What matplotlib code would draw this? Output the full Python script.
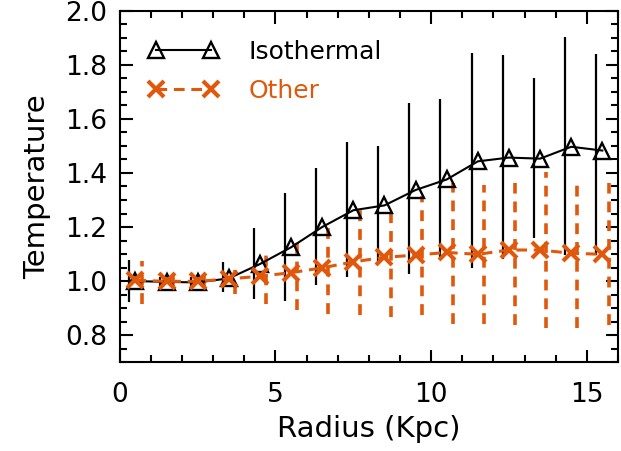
import numpy as np
import matplotlib.pyplot as plt

# radius bins (Kpc)
radius = np.arange(16) + 0.5

# Isothermal profile and its error range
iso_t = [1.0, 0.997, 0.995, 1.01, 1.063, 1.125, 1.20, 1.262,
         1.28, 1.337, 1.376, 1.443, 1.457, 1.453, 1.497, 1.483]
iso_hi = [1.078, 1.015, 1.015, 1.071, 1.195, 1.327, 1.417, 1.514,
          1.50, 1.658, 1.673, 1.843, 1.837, 1.751, 1.903, 1.84]
iso_lo = [0.923, 0.975, 0.975, 0.96, 0.933, 0.926, 0.985, 1.016,
          1.071, 1.025, 1.09, 1.047, 1.08, 1.158, 1.096, 1.096]

# Other profile and its error range
oth_t = [1.003, 0.999, 0.999, 1.008, 1.018, 1.031, 1.049, 1.071,
         1.088, 1.096, 1.106, 1.099, 1.115, 1.115, 1.103, 1.099]
oth_hi = [1.075, 1.02, 1.02, 1.04, 1.12, 1.164, 1.213, 1.269,
          1.265, 1.315, 1.362, 1.356, 1.362, 1.405, 1.38, 1.362]
oth_lo = [0.917, 0.98, 0.98, 0.954, 0.917, 0.893, 0.88, 0.874,
          0.868, 0.874, 0.843, 0.843, 0.837, 0.825, 0.825, 0.837]

orange = '#E0580C'
plt.rcParams['font.family'] = ['DejaVu Sans']

fig = plt.figure(figsize=(6.21, 4.51), dpi=100)
ax = fig.add_axes([0.193, 0.197, 0.802, 0.779])

ax.vlines(radius - 0.2, iso_lo, iso_hi, colors='k', lw=1.6, zorder=2)
ax.vlines(radius + 0.2, oth_lo, oth_hi, colors=orange, lw=2.6,
          linestyles=(0, (3, 2.2)), zorder=2)

ax.plot(radius, iso_t, color='k', lw=1.5, marker='^', ms=12, mfc='none',
        mec='k', mew=1.7, label='Isothermal', zorder=3)
ax.plot(radius, oth_t, color=orange, lw=2.2, ls=(0, (3.5, 2.2)), marker='x',
        ms=11, mew=3, label='Other', zorder=4)

ax.set_xlim(0, 16)
ax.set_ylim(0.7, 2.0)
ax.set_xticks([0, 5, 10, 15])
ax.set_xticks(np.arange(0, 17, 1), minor=True)
ax.set_yticks([0.8, 1.0, 1.2, 1.4, 1.6, 1.8, 2.0])
ax.set_yticklabels(['0.8', '1.0', '1.2', '1.4', '1.6', '1.8', '2.0'])
ax.set_yticks(np.arange(0.7, 2.001, 0.05), minor=True)
ax.tick_params(which='both', direction='in', top=True, right=True,
               labelsize=19, width=1.5)
ax.tick_params(which='major', length=9)
ax.tick_params(which='minor', length=5)
ax.tick_params(axis='x', which='major', pad=14)
ax.tick_params(axis='y', which='major', pad=9)
for s in ax.spines.values():
    s.set_linewidth(1.5)

ax.set_xlabel('Radius (Kpc)', fontsize=21, labelpad=5)
ax.set_ylabel('Temperature', fontsize=21, labelpad=10)

leg = ax.legend(loc='upper left', frameon=False, numpoints=2, handlelength=2.8,
                fontsize=18, labelcolor=['k', orange], borderaxespad=0.75,
                handletextpad=1.2, labelspacing=0.6)

fig.savefig('out.png', dpi=100)
